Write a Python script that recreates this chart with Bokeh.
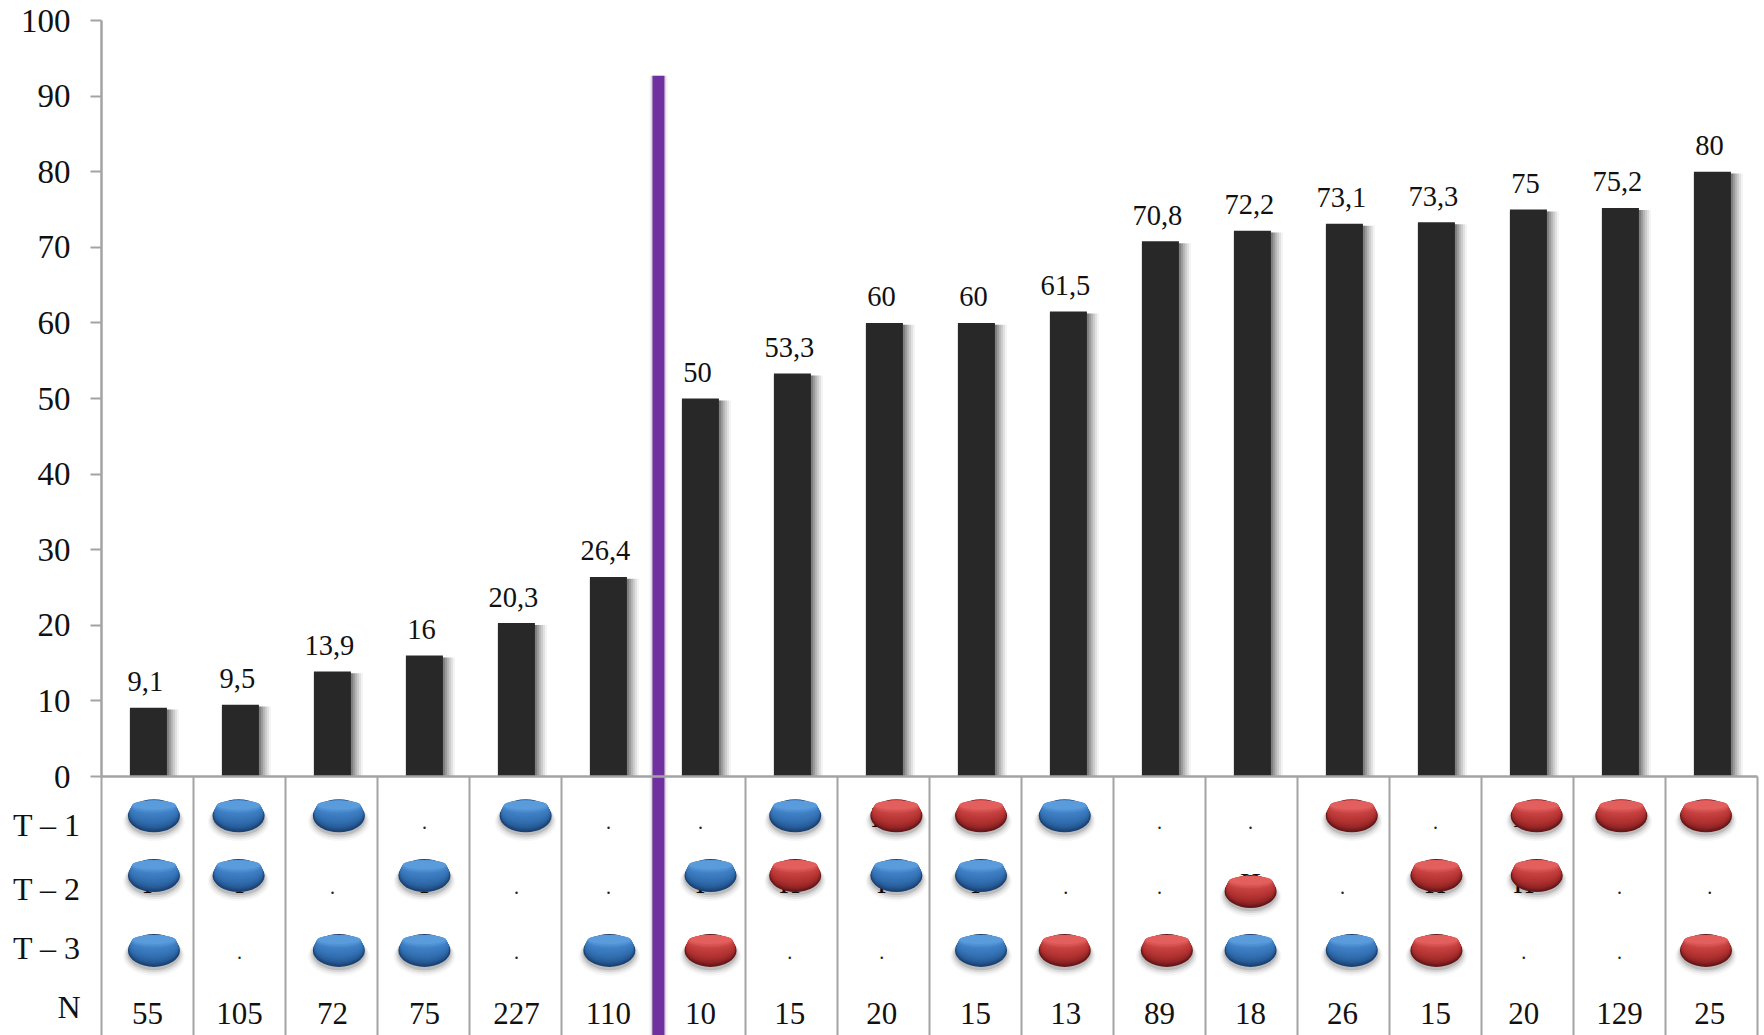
import numpy as np
from bokeh.core.properties import value
from bokeh.embed import file_html
from bokeh.models import ColumnDataSource, FixedTicker, LinearAxis, NumeralTickFormatter, Range1d
from bokeh.plotting import figure
from bokeh.resources import INLINE

# Percentages per group, left to right
shares = [9.1, 9.5, 13.9, 16, 20.3, 26.4, 50, 53.3, 60, 60, 61.5, 70.8, 72.2, 73.1, 73.3, 75, 75.2, 80]
group_sizes = [55, 105, 72, 75, 227, 110, 10, 15, 20, 15, 13, 89, 18, 26, 15, 20, 129, 25]
y_ticks = [0, 10, 20, 30, 40, 50, 60, 70, 80, 90, 100]
row_names = ["T – 1", "T – 2", "T – 3", "N"]

# Genotype table: b = blue marker, r = red marker, . = no marker
t1_cells = list("bbb.b..brrb..r.rrr")
t2_cells = list("bb.b..brbb..r.rr..")
t3_cells = list("b.bb.br..brrbbr..r")

# Cell letters that stay partly visible around the markers (column index, letter)
t1_hidden = [(8, "H"), (13, "H"), (15, "H")]
t2_hidden = [(0, "I"), (1, "I"), (3, "I"), (6, "I"), (7, "H"), (8, "I"), (9, "I"), (12, "H"), (14, "H"), (15, "H")]
t3_hidden = [(2, "H"), (6, "H"), (11, "H"), (13, "H")]

# Horizontal centres of the markers and of the cell texts, in column units
t1_marker_x = [0.57, 1.49, 2.58, 3.5, 4.61, 5.5, 6.6, 7.54, 8.64, 9.56, 10.47, 11.5, 12.5, 13.59, 14.5, 15.6, 16.52, 17.44]
t2_marker_x = [0.57, 1.49, 2.5, 3.51, 4.5, 5.5, 6.62, 7.54, 8.64, 9.56, 10.5, 11.5, 12.49, 13.5, 14.51, 15.6, 16.5, 17.5]
t3_marker_x = [0.57, 1.5, 2.58, 3.51, 4.5, 5.52, 6.62, 7.5, 8.5, 9.56, 10.47, 11.58, 12.49, 13.59, 14.51, 15.5, 16.5, 17.44]
cell_text_x = [0.5, 1.5, 2.51, 3.51, 4.51, 5.51, 6.51, 7.48, 8.48, 9.5, 10.48, 11.5, 12.49, 13.49, 14.5, 15.46, 16.5, 17.48]

# Vertical positions of the table rows on the value scale
t1_marker_y, t2_marker_y, t3_marker_y = -5.2, -13.1, -23.0
t2_low_marker_y = -15.2
t1_text_y, t2_text_y, t3_text_y = -6.0, -14.65, -23.2
hidden_letter_rise = 0.6
n_text_y = -31.4
row_label_y = [-6.4, -14.9, -22.75, -30.45]
divider_x, divider_top = 6.054, 92.7

PX_X = 92.0
PX_Y = 7.56
FONT = value("Liberation Serif")

p = figure(width=1764, height=1035, output_backend="svg", toolbar_location=None,
           x_range=Range1d(-101 / PX_X, 1663 / PX_X),
           y_range=Range1d(-259 / PX_Y, 776 / PX_Y),
           x_axis_location=None, y_axis_location=None,
           min_border=0, outline_line_color=None, background_fill_color="white")
p.xgrid.visible = False
p.ygrid.visible = False

edge = "#a3a3a3"

# Table cell borders below the baseline
edges = np.arange(19)
p.segment(edges, 0, edges, p.y_range.start, line_color=edge, line_width=2)

# Bars with a soft shadow on their right side
bar_x = np.arange(len(shares)) + 0.51
bar_w = 37 / PX_X
bar_top = np.array(shares)
for grow, alpha in zip([12, 10, 8, 6, 4, 2], [0.05, 0.07, 0.09, 0.11, 0.14, 0.18]):
    p.vbar(bar_x + (grow / 2) / PX_X, top=bar_top - 0.25, bottom=0,
           width=bar_w + grow / PX_X, fill_color="black", fill_alpha=alpha, line_color=None)
p.vbar(bar_x, top=shares, bottom=0, width=bar_w, fill_color="#282828", line_color=None)

# Value labels above the bars
labels = ColumnDataSource(dict(x=bar_x, y=shares, t=[f"{v:g}".replace(".", ",") for v in shares]))
p.text("x", "y", text="t", source=labels, x_offset=-3, y_offset=-26, text_align="center",
       text_baseline="alphabetic", text_font=FONT, text_font_size="28.5px", text_color="#111111")

# Divider between the two groups of bars
for grow, alpha in zip([6, 3], [0.05, 0.1]):
    p.vbar([divider_x], top=[divider_top], bottom=[p.y_range.start], width=(12 + grow) / PX_X,
           fill_color="black", fill_alpha=alpha, line_color=None)
p.vbar([divider_x], top=[divider_top], bottom=[p.y_range.start], width=12 / PX_X,
       fill_color="#7030a0", line_color=None)

# Axes
y_axis = LinearAxis(fixed_location=0, bounds=(0, 100), ticker=FixedTicker(ticks=y_ticks),
                    formatter=NumeralTickFormatter(format="0"))
y_axis.axis_line_color = edge
y_axis.axis_line_width = 2.5
y_axis.major_tick_line_color = edge
y_axis.major_tick_line_width = 2
y_axis.major_tick_out = 11
y_axis.major_tick_in = 0
y_axis.minor_tick_line_color = None
y_axis.major_label_standoff = 20
y_axis.major_label_text_font = "Liberation Serif"
y_axis.major_label_text_font_size = "33px"
y_axis.major_label_text_color = "#111111"
p.add_layout(y_axis, "left")

x_axis = LinearAxis(fixed_location=0, bounds=(0, 18), ticker=FixedTicker(ticks=[]))
x_axis.axis_line_color = edge
x_axis.axis_line_width = 2.5
x_axis.major_tick_line_color = None
x_axis.minor_tick_line_color = None
x_axis.major_label_text_font_size = "0px"
p.add_layout(x_axis, "below")


def cell_text(cells, hidden, y):
    """Dots in the empty cells, and the cell letters the markers are painted over."""
    xs = [cell_text_x[i] for i, c in enumerate(cells) if c == "."]
    p.text(xs, [y] * len(xs), text=["."] * len(xs), text_align="center", text_baseline="alphabetic",
           text_font=FONT, text_font_size="20px", text_color="#222222")
    p.text([cell_text_x[i] for i, _ in hidden], [y + hidden_letter_rise] * len(hidden), text=[c for _, c in hidden],
           text_align="center", text_baseline="alphabetic", text_font=FONT, text_font_size="29px",
           text_color="#111111")


cell_text(t1_cells, t1_hidden, t1_text_y)
cell_text(t2_cells, t2_hidden, t2_text_y)
cell_text(t3_cells, t3_hidden, t3_text_y)


def ramp(stops, n=16):
    """Colours running through the given stops, dark rim first."""
    rgb = np.array([[int(s[i:i + 2], 16) for i in (1, 3, 5)] for s in stops], dtype=float)
    pos = np.linspace(0, 1, len(stops))
    out = []
    for f in np.linspace(0, 1, n):
        c = [int(round(np.interp(f, pos, rgb[:, j]))) for j in range(3)]
        out.append("#%02x%02x%02x" % tuple(c))
    return out


BLUE = ramp(["#1b4272", "#275a96", "#2f6bab", "#3876ba", "#3f7fc4", "#5a9bdc"])
RED = ramp(["#661719", "#932526", "#ab2f2e", "#ba3837", "#c64241", "#e25f5d"])
MARK_W, MARK_H = 52, 33


def markers(xs, ys, colours):
    # Soft shadow under the marker
    for grow, drop, alpha in [(10, 6, 0.03), (7, 5, 0.05), (4, 4, 0.08), (1, 3, 0.12)]:
        p.ellipse(xs, np.array(ys) - drop / PX_Y, width=MARK_W + grow, height=MARK_H + grow * 0.6,
                  width_units="screen", height_units="screen",
                  fill_color="black", fill_alpha=alpha, line_color=None)
    # Dark rim, then lighter layers shrinking towards the upper edge
    n = len(colours)
    for k, col in enumerate(colours):
        f = k / (n - 1)
        w = MARK_W - 2 * min(k, 1) - 7 * f ** 2
        h = MARK_H - 2 * min(k, 1) - 22 * f ** 1.2
        rise = (MARK_H - h) / 2 - 1.2 * min(k, 1)
        p.ellipse(xs, np.array(ys) + rise / PX_Y, width=w, height=h,
                  width_units="screen", height_units="screen", fill_color=col, line_color=None)


def row_markers(cells, xs, y):
    for code, colours in (("b", BLUE), ("r", RED)):
        sel = [i for i, c in enumerate(cells) if c == code]
        if sel:
            ys = [t2_low_marker_y if (y == t2_marker_y and group_sizes[i] == 18) else y for i in sel]
            markers([xs[i] for i in sel], ys, colours)


row_markers(t1_cells, t1_marker_x, t1_marker_y)
row_markers(t2_cells, t2_marker_x, t2_marker_y)
row_markers(t3_cells, t3_marker_x, t3_marker_y)

# Group sizes along the bottom row
p.text(cell_text_x, [n_text_y] * len(group_sizes), text=[str(n) for n in group_sizes],
       text_align="center", text_baseline="alphabetic", text_font=FONT, text_font_size="31px", text_color="#111111")

# Row names left of the table
p.text([-21 / PX_X] * 4, row_label_y, text=row_names, text_align="right", text_baseline="alphabetic",
       text_font=FONT, text_font_size="32px", text_color="#111111")

open("out.html", "w").write(file_html(p, INLINE))
